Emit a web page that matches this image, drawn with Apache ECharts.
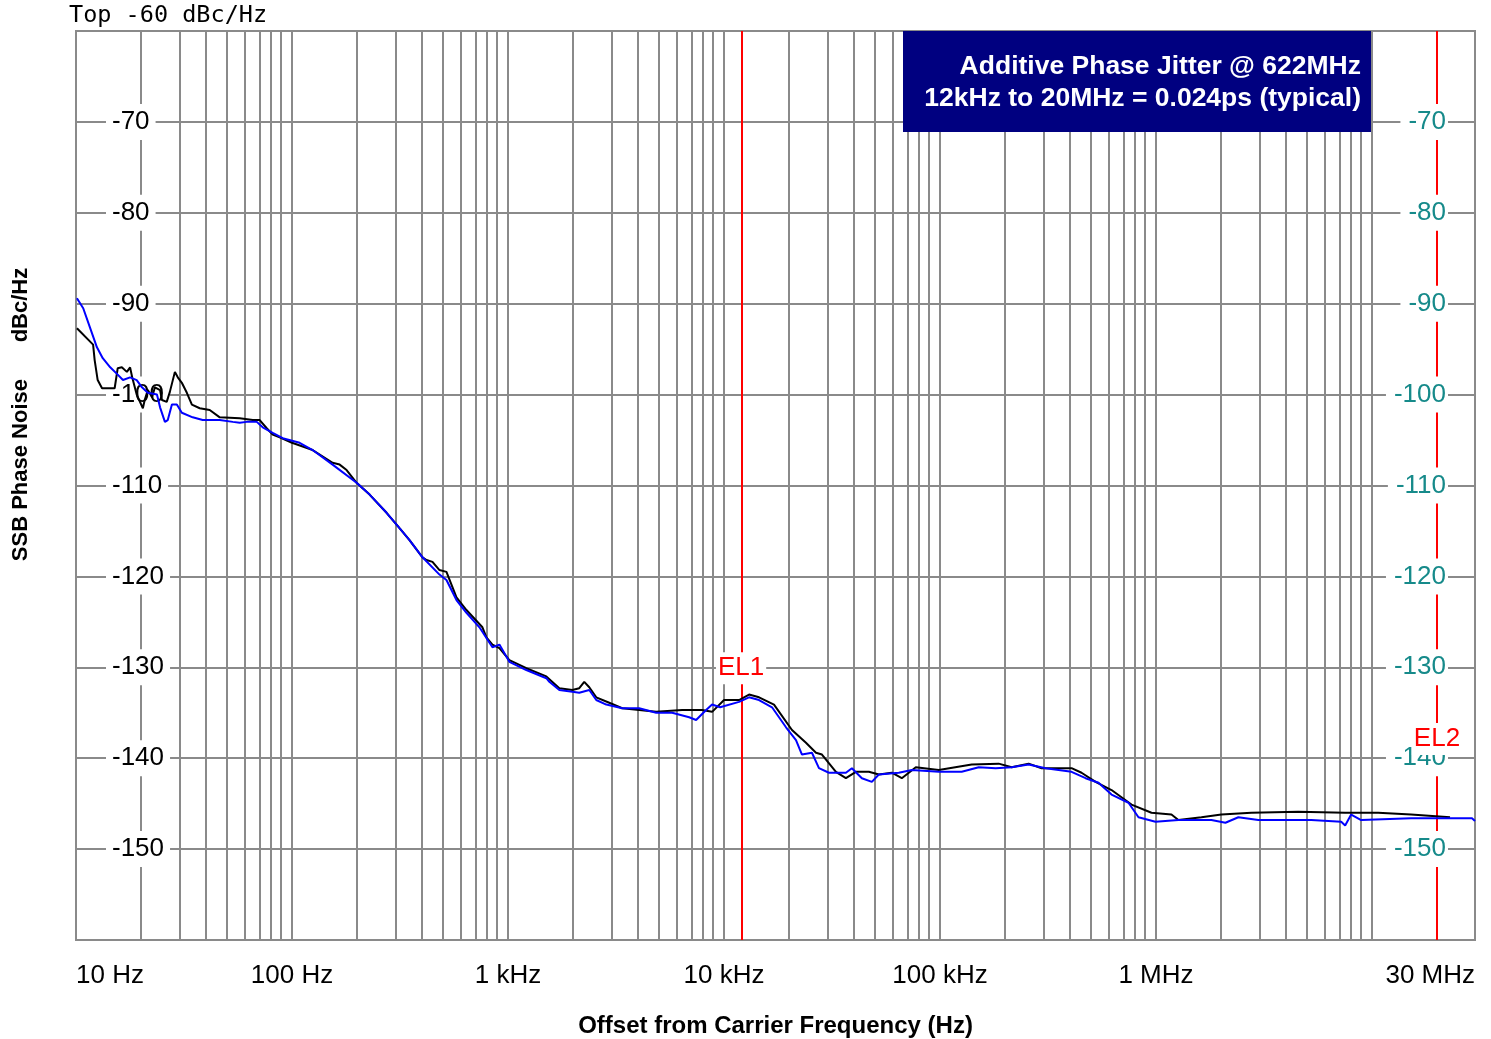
<!DOCTYPE html>
<html><head><meta charset="utf-8">
<script src="https://cdn.jsdelivr.net/npm/echarts@6/dist/echarts.min.js"></script>
<style>html,body{margin:0;padding:0;background:#fff}#c{width:1491px;height:1039px}</style>
</head><body><div id="c"></div>
<script>
// ---- data (offset frequency in Hz, phase noise in dBc/Hz) ----
const blackFreq = [10.1,12.0,12.2,12.6,13.2,15.1,15.6,16.3,17.2,17.8,18.2,19.1,20.4,20.8,21.5,22.5,23.2,24.5,25.0,26.3,27.2,28.7,29.6,30.9,32.6,34.4,37.4,41.6,46.3,57.3,65.8,70.9,76.4,81.4,87.7,100,124.6,154.2,166.2,179,199.1,228.7,274.1,314.7,350,402,419.5,447.2,481.7,519,577.4,642.2,761.6,794.6,847.2,912.5,1015,1216,1505,1729,1985,2138,2255,2379,2563,2943,3380,4050,4854,6402,7920,8810,10010,11745,13062,14532,17047,20645,23968,26665,28420,32985,36689,40806,46867,52122,59861,66572,77293,98740,140280,187000,214700,257300,295500,406700,452400,525300,622700,770500,953300,1179500,1270600,1623300,2008800,2764300,4558000,7516000,10680000,15180000,22990000];
const blackDb = [-92.7,-94.5,-96.2,-98.4,-99.3,-99.3,-97.1,-97.0,-97.5,-97.0,-98.1,-100.0,-101.5,-100.6,-99.5,-100.3,-99.2,-99.5,-100.6,-100.8,-99.7,-97.5,-98.1,-98.7,-99.8,-101.1,-101.5,-101.7,-102.5,-102.6,-102.8,-102.8,-103.7,-104.4,-104.7,-105.3,-106.1,-107.5,-107.7,-108.3,-109.7,-111.0,-113.0,-114.7,-116.0,-117.9,-118.2,-118.4,-119.3,-119.5,-122.3,-123.7,-125.6,-126.7,-127.5,-127.9,-129.2,-130.1,-131.0,-132.3,-132.5,-132.3,-131.6,-132.2,-133.3,-133.9,-134.5,-134.7,-134.9,-134.7,-134.7,-134.9,-133.6,-133.6,-133.0,-133.3,-134.1,-136.9,-138.3,-139.4,-139.6,-141.5,-142.2,-141.5,-141.5,-141.8,-141.6,-142.2,-141.0,-141.3,-140.7,-140.6,-141.0,-140.6,-141.1,-141.1,-141.6,-142.6,-143.5,-145.1,-146.0,-146.2,-146.8,-146.5,-146.2,-146.0,-145.9,-146.0,-146.0,-146.2,-146.5];
const blueFreq = [10.1,10.8,11.6,12.5,13.3,14.4,15.6,16.5,17.8,19.1,20.2,21.5,23.7,24.5,25.8,26.6,27.8,29.3,30.9,34.7,38.6,46.3,53.2,57.3,61.7,68.7,73.2,81.4,90.6,108.5,124.6,154.2,199.1,228.7,274.1,314.7,350,402,481.7,519,577.4,642.2,737.6,847.2,912.5,1015,1216,1505,1554,1729,1985,2138,2379,2563,2851,3380,4050,4854,5756,6899,7431,8266,8810,9594,11745,13062,14532,16688,19374,21548,22966,25547,27527,30618,36689,39105,43502,48380,52122,64480,74070,98740,126120,151200,181100,214700,257300,308400,406700,472200,542200,622700,746300,830100,994700,1270600,1806000,2097000,2407000,2979000,5236000,7207000,7516000,8013000,8913000,15180000,29060000,30000000];
const blueDb = [-89.4,-90.5,-92.6,-94.8,-96.0,-97.0,-97.8,-98.4,-98.1,-98.4,-99.2,-99.8,-100.0,-101.4,-103.0,-102.8,-101.1,-101.1,-102.0,-102.5,-102.8,-102.8,-103.0,-103.1,-103.0,-103.0,-103.6,-104.2,-104.8,-105.3,-106.1,-107.7,-109.7,-111.0,-113.0,-114.7,-116.0,-117.9,-119.8,-120.4,-122.6,-124.0,-125.6,-127.8,-127.5,-129.4,-130.3,-131.2,-131.6,-132.5,-132.7,-132.8,-132.5,-133.6,-134.1,-134.5,-134.5,-135.0,-135.0,-135.5,-135.8,-134.7,-134.1,-134.4,-133.8,-133.3,-133.6,-134.4,-136.6,-138.0,-139.6,-139.4,-141.1,-141.6,-141.6,-141.1,-142.2,-142.6,-141.8,-141.6,-141.3,-141.5,-141.5,-141.0,-141.1,-141.0,-140.7,-141.1,-141.5,-142.2,-142.7,-144.0,-144.9,-146.5,-147.0,-146.8,-146.8,-147.1,-146.5,-146.8,-146.8,-147.0,-147.4,-146.2,-146.8,-146.6,-146.6,-146.9];
const yTicks = [-70,-80,-90,-100,-110,-120,-130,-140,-150];
const xTickLabels = ['10 Hz','100 Hz','1 kHz','10 kHz','100 kHz','1 MHz','','30 MHz'];
const xMinHz = 10, xMaxHz = 3e7, yMin = -160, yMax = -60;
const markerFreqs = [12000, 20000000];
const markerNames = ['EL1','EL2'];
const markerLabelDb = [-130.1, -137.9];

// ---- helpers ----
const L = Math.log10;
const gridFreqs = [];
for (let d = 10; d <= 1e7; d *= 10) for (let m = 1; m <= 9; m++) { const f = d*m; if (f > xMinHz && f < xMaxHz) gridFreqs.push(f); }
const toPts = (fs, ds) => fs.map((f,i) => [L(f), ds[i]]);
const GRID = '#8a8a8a';
const chart = echarts.init(document.getElementById('c'), null, {renderer:'canvas'});
const yLabelBase = {inside:true, fontSize:26, fontFamily:'Liberation Sans, Arial, sans-serif', backgroundColor:'#fff', showMinLabel:false, showMaxLabel:false,
  formatter: v => yTicks.includes(Math.round(v)) ? String(Math.round(v)) : ''};
chart.setOption({
  animation:false,
  title:{text:'Top -60 dBc/Hz', left:69, top:4, padding:0, textStyle:{fontFamily:'DejaVu Sans Mono', fontSize:23.5, fontWeight:'normal', color:'#000'}},
  grid:{left:76, right:16, top:31, bottom:99, show:true, borderColor:GRID, borderWidth:2, backgroundColor:'#fff', containLabel:false, outerBoundsMode:'none'},
  xAxis:{type:'value', min:L(xMinHz), max:L(xMaxHz), interval:1,
    name:'Offset from Carrier Frequency (Hz)', nameLocation:'middle', nameGap:74,
    nameTextStyle:{fontSize:24, fontWeight:'bold', fontFamily:'Liberation Sans, Arial, sans-serif', color:'#000'},
    axisLine:{show:false}, axisTick:{show:false}, splitLine:{show:false},
    axisLabel:{margin:23, fontSize:26, color:'#000', fontFamily:'Liberation Sans Narrow, Arial Narrow, Liberation Sans, sans-serif',
      showMinLabel:true, showMaxLabel:true, alignMinLabel:'left', alignMaxLabel:'right',
      formatter: v => { const k = Math.round((v - 1)*1000)/1000; if (Math.abs(k - Math.round(k)) < 1e-6) return xTickLabels[Math.round(k)] || ''; return xTickLabels[7]; }}},
  yAxis:[
    {type:'value', position:'left', min:yMin, max:yMax, interval:10, z:3,
      name:'SSB Phase Noise      dBc/Hz', nameLocation:'middle', nameGap:44, nameRotate:90,
      nameTextStyle:{fontSize:22, fontWeight:'bold', fontFamily:'Liberation Sans, Arial, sans-serif', color:'#000', padding:[0,0,0,142]},
      axisLine:{show:false}, axisTick:{show:false}, splitLine:{show:false},
      axisLabel:Object.assign({}, yLabelBase, {margin:30, color:'#000', padding:[5,6,5,6]})},
    {type:'value', position:'right', min:yMin, max:yMax, interval:10, z:3,
      axisLine:{show:false}, axisTick:{show:false}, splitLine:{show:false},
      axisLabel:Object.assign({}, yLabelBase, {margin:27, color:'#168a8a', padding:[5,2,5,8]})}
  ],
  graphic:[{type:'group', children:[
    {type:'rect', shape:{x:903, y:31, width:468, height:101}, style:{fill:'#000080'}, z:10},
    {type:'text', x:1361, y:67, style:{text:'Additive Phase Jitter @ 622MHz', fill:'#fff', font:'bold 26.5px "Liberation Sans", Arial, sans-serif', textAlign:'right', textVerticalAlign:'middle'}, z:11},
    {type:'text', x:1361, y:99, style:{text:'12kHz to 20MHz = 0.024ps (typical)', fill:'#fff', font:'bold 26.5px "Liberation Sans", Arial, sans-serif', textAlign:'right', textVerticalAlign:'middle'}, z:11}
  ]}],
  series:[
    {type:'line', name:'grid', data:[], z:1, silent:true,
      markLine:{z:1, silent:true, symbol:['none','none'], label:{show:false}, animation:false,
        lineStyle:{color:GRID, width:2, type:'solid'},
        data: gridFreqs.map(f => ({xAxis:L(f)})).concat(yTicks.map(v => ({yAxis:v})))}},
    {type:'line', name:'markers', data:[], z:2, silent:true,
      markLine:{z:2, silent:true, symbol:['none','none'], label:{show:false}, animation:false,
        lineStyle:{color:'#ff0000', width:2, type:'solid'},
        data: markerFreqs.map(f => ({xAxis:L(f)}))}},
    {type:'line', name:'Reference', data:toPts(blackFreq, blackDb), z:4, showSymbol:false, symbol:'none',
      lineStyle:{color:'#000', width:2}},
    {type:'line', name:'Additive', data:toPts(blueFreq, blueDb), z:4, showSymbol:false, symbol:'none',
      lineStyle:{color:'#0000ff', width:2}},
    {type:'line', name:'markerLabels', data:[], z:5, silent:true,
      markPoint:{z:5, symbol:'rect', symbolSize:1, itemStyle:{color:'rgba(0,0,0,0)'},
        label:{show:true, position:'inside', formatter:'{b}', color:'#ff0000', fontSize:26, fontFamily:'Liberation Sans, Arial, sans-serif', backgroundColor:'#fff', padding:[3,2,3,2]},
        data: markerFreqs.map((f,i) => ({name:markerNames[i], coord:[L(f), markerLabelDb[i]]}))}}
  ]
});
</script></body></html>
